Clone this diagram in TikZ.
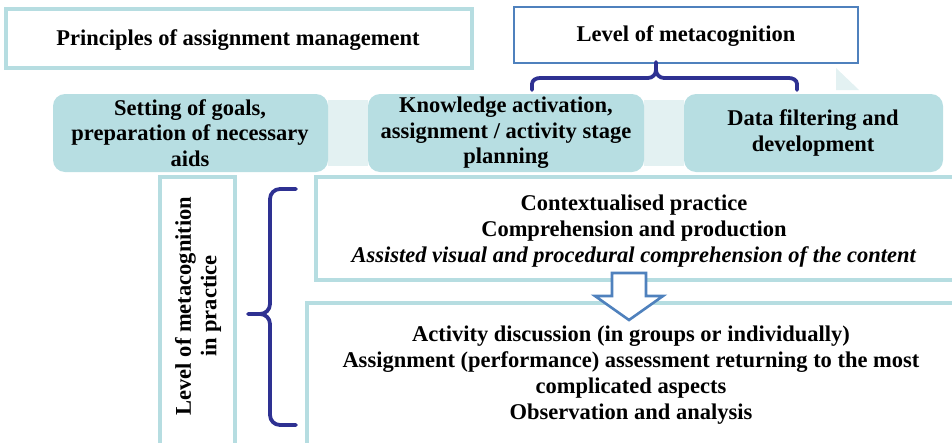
\documentclass[tikz,border=0pt]{standalone}
\usepackage{fontspec}
\setmainfont{Liberation Serif}
\definecolor{cyanline}{HTML}{B6DDE1}
\definecolor{cyanfill}{HTML}{B7DEE2}
\definecolor{paleconn}{HTML}{E3F1F2}
\definecolor{blueline}{HTML}{4F81BD}
\definecolor{bracecol}{HTML}{2E3192}
\begin{document}
\begin{tikzpicture}[x=1pt,y=-1pt,
  txt/.style={font=\fontsize{22.5}{25.5}\selectfont\bfseries, align=center},
  txtw/.style={font=\fontsize{22.5}{26.2}\selectfont\bfseries, align=center},
  plainbox/.style={draw=cyanline, line width=3.5pt, fill=white},
  stagebox/.style={fill=cyanfill, rounded corners=12pt},
  connbox/.style={fill=paleconn},
  bracestyle/.style={draw=bracecol, line width=3.8pt, line cap=round, line join=round}]
\useasboundingbox (0,0) rectangle (952,442);
% top boxes
\draw[plainbox] (6,9) rectangle (472,68);
\node[txt] (princ) at (238,40) {Principles of assignment management};
\draw[draw=blueline, line width=2.6pt, fill=white] (514,7) rectangle (858,63);
\node[txt] (lom) at (686,36) {Level of metacognition};
% faint triangle
\fill[paleconn] (836,68) -- (836,90) -- (859,90) -- cycle;
% top brace
\draw[bracestyle] (532,90) -- (532,84) to[out=90,in=180] (540,78) -- (648,78) to[out=0,in=-90] (656,70) -- (656,62)
  (656,70) to[out=-90,in=180] (664,78) -- (789,78) to[out=0,in=90] (797,84) -- (797,90);
% connectors between stage boxes
\fill[connbox] (328,100) rectangle (368,166);
\fill[connbox] (644,100) rectangle (684,166);
% stage boxes
\fill[stagebox] (53,94) rectangle (328,172);
\node[txt] (s1) at (190,133) {Setting of goals,\\preparation of necessary\\aids};
\fill[stagebox] (368,94) rectangle (644,172);
\node[txt] (s2) at (506,133) {Knowledge activation,\\assignment / activity stage\\planning};
\fill[stagebox] (684,94) rectangle (943,172);
\node[txt] (s3) at (813,133) {Data filtering and\\development};
% practice boxes
\draw[plainbox] (316,177) rectangle (958,280);
\node[txtw] (ctx) at (634,231) {Contextualised practice\\Comprehension and production\\\textit{Assisted visual and procedural comprehension of the content}};
\draw[plainbox] (307,303) rectangle (958,448);
\node[txtw] (act) at (631,375) {Activity discussion (in groups or individually)\\Assignment (performance) assessment returning to the most\\complicated aspects\\Observation and analysis};
% vertical box
\draw[plainbox] (160,177) rectangle (235,448);
\node[txt, rotate=90] (vert) at (198,306) {Level of metacognition\\in practice};
% left brace
\draw[bracestyle] (296,189) -- (280,189) to[out=180,in=90] (270,199) -- (270,304) to[out=-90,in=0] (260,314) -- (248,314)
  (260,314) to[out=0,in=90] (270,324) -- (270,415) to[out=-90,in=180] (280,425) -- (296,425);
% down arrow
\draw[draw=blueline, line width=2.6pt, fill=white, line join=miter] (612,273) -- (646,273) -- (646,296) -- (663,296) -- (629,320) -- (595,296) -- (612,296) -- cycle;
\end{tikzpicture}
\end{document}
